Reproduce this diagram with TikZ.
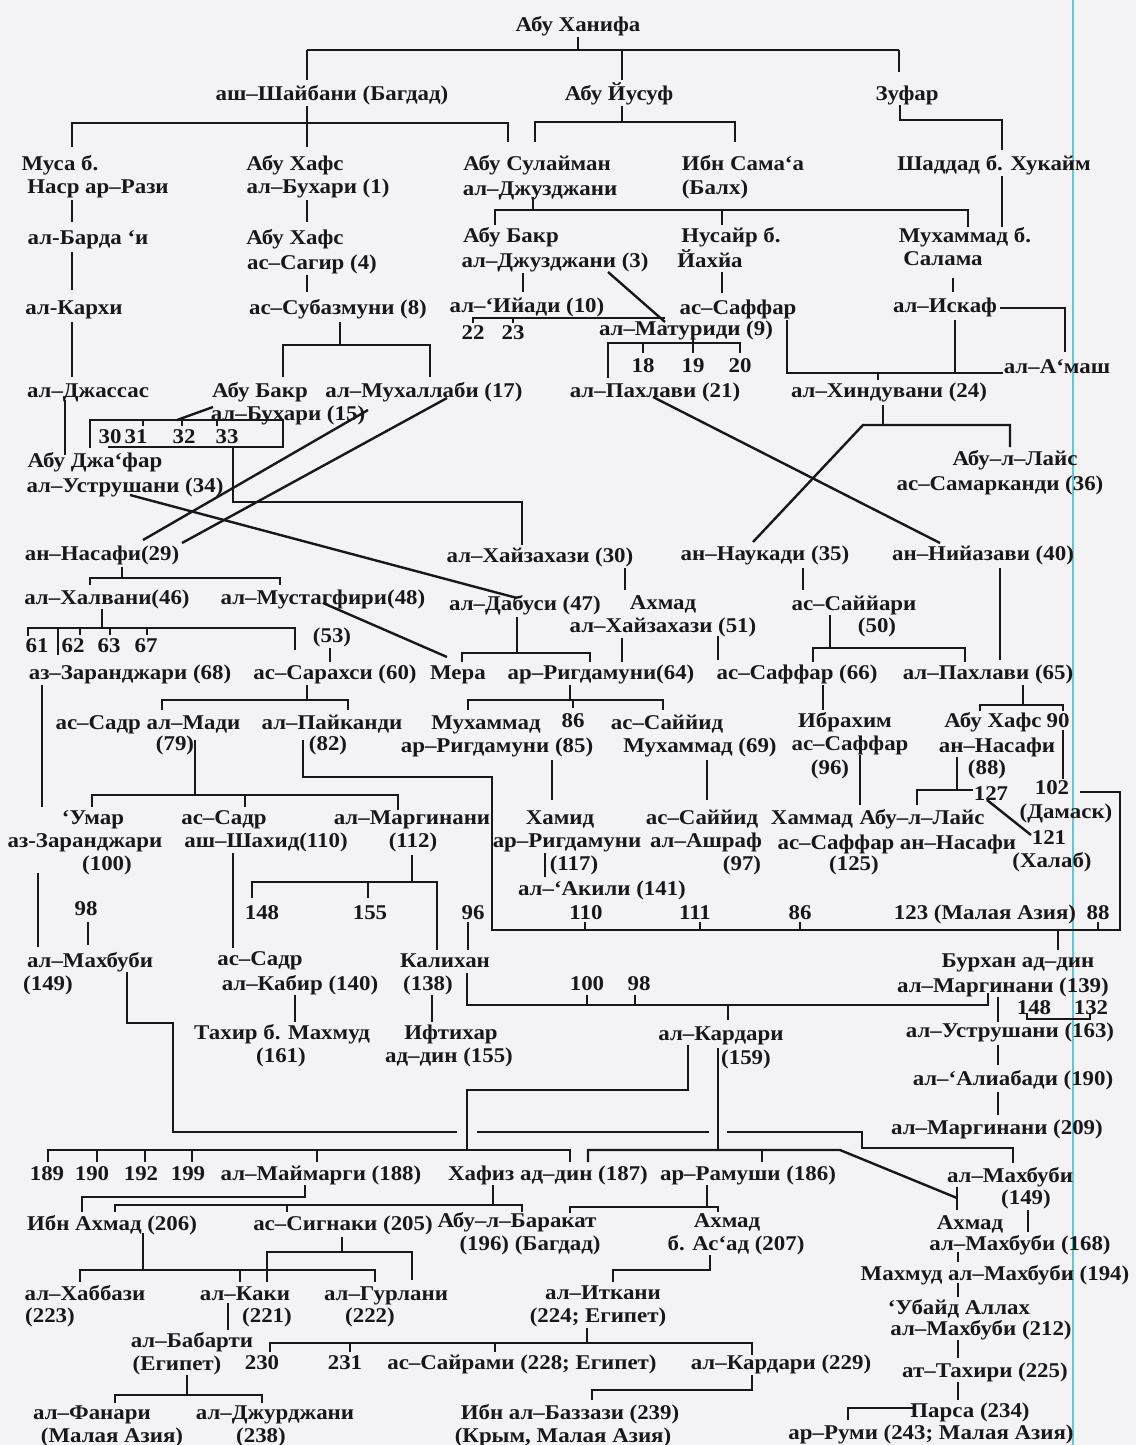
\documentclass[tikz,border=0pt]{standalone}
\usepackage{fontspec}
\setmainfont{Liberation Serif}[FakeStretch=1.09]
\definecolor{ink}{RGB}{24,24,26}
\definecolor{bg}{RGB}{243,243,246}
\definecolor{cy}{RGB}{95,200,210}
\newcommand\Tx[4]{\node[lb] (#1) at (#2,{#3+7}) {#4};}
\begin{document}
\begin{tikzpicture}[x=1pt,y=-1pt,
  lb/.style={anchor=base,inner sep=0pt,text=ink,font=\fontsize{21}{23}\selectfont\bfseries},
  ln/.style={draw=ink,line width=2.4pt}]
\fill[bg] (0,0) rectangle (1136,1445);
\useasboundingbox (0,0) rectangle (1136,1445);
\draw[cy,line width=1.6pt] (1073,0) -- (1073,1445);
% ---------- texts ----------
\Tx{hanifa}{578}{25}{Абу Ханифа}
\Tx{shaybani}{332}{93}{аш–Шайбани (Багдад)}
\Tx{yusuf}{619}{93}{Абу Йусуф}
\Tx{zufar}{907}{93}{Зуфар}
\Tx{musaA}{60}{163}{Муса б.}
\Tx{musaB}{98}{186}{Наср ар–Рази}
\Tx{hafsA}{295}{163}{Абу Хафс}
\Tx{hafsB}{318}{186}{ал–Бухари (1)}
\Tx{sulA}{537}{163}{Абу Сулайман}
\Tx{sulB}{540}{188}{ал–Джузджани}
\Tx{samaA}{743}{163}{Ибн Сама‘а}
\Tx{samaB}{715}{187}{(Балх)}
\Tx{shaddad}{994}{163}{Шаддад б. Хукайм}
\Tx{barda}{88}{237}{ал-Барда ‘и}
\Tx{saghirA}{295}{237}{Абу Хафс}
\Tx{saghirB}{312}{262}{ас–Сагир (4)}
\Tx{bakrA}{511}{235}{Абу Бакр}
\Tx{bakrB}{555}{260}{ал–Джузджани (3)}
\Tx{nusayrA}{731}{235}{Нусайр б.}
\Tx{nusayrB}{710}{260}{Йахйа}
\Tx{salamaA}{965}{235}{Мухаммад б.}
\Tx{salamaB}{943}{258}{Салама}
\Tx{karkhi}{74}{307}{ал-Кархи}
\Tx{subaz}{338}{307}{ас–Субазмуни (8)}
\Tx{iyadi}{527}{305}{ал–‘Ийади (10)}
\Tx{saffarA}{738}{307}{ас–Саффар}
\Tx{iskaf}{945}{305}{ал–Искаф}
\Tx{n22}{473}{332}{22}
\Tx{n23}{513}{332}{23}
\Tx{maturidi}{686}{328}{ал–Матуриди (9)}
\Tx{amash}{1057}{366}{ал–А‘маш}
\Tx{n18}{643}{365}{18}
\Tx{n19}{693}{365}{19}
\Tx{n20}{740}{365}{20}
\Tx{jassas}{88}{390}{ал–Джассас}
\Tx{bakrbA}{260}{390}{Абу Бакр}
\Tx{bakrbB}{288}{413}{ал–Бухари (15)}
\Tx{muhallabi}{424}{390}{ал–Мухаллаби (17)}
\Tx{pahlaviA}{655}{390}{ал–Пахлави (21)}
\Tx{hinduvani}{889}{390}{ал–Хиндувани (24)}
\Tx{n30}{110}{436}{30}
\Tx{n31}{136}{436}{31}
\Tx{n32}{184}{436}{32}
\Tx{n33}{227}{436}{33}
\Tx{jafarA}{95}{460}{Абу Джа‘фар}
\Tx{jafarB}{125}{485}{ал–Уструшани (34)}
\Tx{laythA}{1015}{458}{Абу–л–Лайс}
\Tx{laythB}{1000}{483}{ас–Самарканди (36)}
\Tx{nasafi}{102}{553}{ан–Насафи(29)}
\Tx{khayzA}{540}{555}{ал–Хайзахази (30)}
\Tx{naukadi}{765}{553}{ан–Наукади (35)}
\Tx{niyazavi}{983}{553}{ан–Нийазави (40)}
\Tx{khalvani}{107}{597}{ал–Халвани(46)}
\Tx{mustaghfiri}{323}{597}{ал–Мустагфири(48)}
\Tx{dabusi}{525}{603}{ал–Дабуси (47)}
\Tx{ahmadA}{663}{602}{Ахмад}
\Tx{ahmadB}{663}{625}{ал–Хайзахази (51)}
\Tx{sayyariA}{854}{603}{ас–Саййари}
\Tx{sayyariB}{877}{625}{(50)}
\Tx{n61}{37}{645}{61}
\Tx{n62}{73}{645}{62}
\Tx{n63}{109}{645}{63}
\Tx{n67}{146}{645}{67}
\Tx{n53}{332}{635}{(53)}
\Tx{zaranj}{130}{672}{аз–Заранджари (68)}
\Tx{sarakhsi}{335}{672}{ас–Сарахси (60)}
\Tx{mera}{458}{672}{Мера}
\Tx{rigd}{601}{672}{ар–Ригдамуни(64)}
\Tx{saffarB}{797}{672}{ас–Саффар (66)}
\Tx{pahlaviB}{988}{672}{ал–Пахлави (65)}
\Tx{madiA}{148}{722}{ас–Садр ал–Мади}
\Tx{madiB}{175}{743}{(79)}
\Tx{paykA}{332}{722}{ал–Пайканди}
\Tx{paykB}{328}{743}{(82)}
\Tx{muhrA}{486}{722}{Мухаммад}
\Tx{muhrB}{497}{745}{ар–Ригдамуни (85)}
\Tx{n86a}{573}{720}{86}
\Tx{sayyA}{667}{722}{ас–Саййид}
\Tx{sayyB}{700}{745}{Мухаммад (69)}
\Tx{ibrA}{845}{720}{Ибрахим}
\Tx{ibrB}{850}{743}{ас–Саффар}
\Tx{ibrC}{830}{767}{(96)}
\Tx{hafsnA}{993}{720}{Абу Хафс}
\Tx{n90}{1058}{720}{90}
\Tx{hafsnB}{997}{745}{ан–Насафи}
\Tx{hafsnC}{987}{767}{(88)}
\Tx{umarA}{93}{817}{‘Умар}
\Tx{umarB}{85}{840}{аз-Заранджари}
\Tx{umarC}{107}{863}{(100)}
\Tx{shahidA}{224}{817}{ас–Садр}
\Tx{shahidB}{266}{840}{аш–Шахид(110)}
\Tx{margA}{412}{817}{ал–Маргинани}
\Tx{margB}{413}{840}{(112)}
\Tx{hamidA}{560}{817}{Хамид}
\Tx{hamidB}{567}{840}{ар–Ригдамуни}
\Tx{hamidC}{574}{863}{(117)}
\Tx{ashrafA}{702}{817}{ас–Саййид}
\Tx{ashrafB}{706}{840}{ал–Ашраф}
\Tx{ashrafC}{742}{863}{(97)}
\Tx{hammadA}{812}{817}{Хаммад}
\Tx{hammadB}{836}{842}{ас–Саффар}
\Tx{hammadC}{854}{863}{(125)}
\Tx{laysnA}{922}{817}{Абу–л–Лайс}
\Tx{laysnB}{958}{842}{ан–Насафи}
\Tx{n127}{991}{793}{127}
\Tx{n102}{1052}{787}{102}
\Tx{damask}{1066}{811}{(Дамаск)}
\Tx{n121}{1049}{837}{121}
\Tx{khalab}{1052}{860}{(Халаб)}
\Tx{aqili}{602}{888}{ал–‘Акили (141)}
\Tx{n148a}{262}{912}{148}
\Tx{n155a}{370}{912}{155}
\Tx{n96}{473}{912}{96}
\Tx{n110}{586}{912}{110}
\Tx{n111}{695}{912}{111}
\Tx{n86b}{800}{912}{86}
\Tx{n123}{985}{912}{123 (Малая Азия)}
\Tx{n88}{1098}{912}{88}
\Tx{n98a}{86}{908}{98}
\Tx{mahbA}{90}{960}{ал–Махбуби}
\Tx{mahbB}{48}{983}{(149)}
\Tx{kabirA}{260}{958}{ас–Садр}
\Tx{kabirB}{300}{983}{ал–Кабир (140)}
\Tx{qalA}{445}{960}{Калихан}
\Tx{qalB}{428}{983}{(138)}
\Tx{burhanA}{1018}{960}{Бурхан ад–дин}
\Tx{burhanB}{1003}{985}{ал–Маргинани (139)}
\Tx{n100}{587}{983}{100}
\Tx{n98b}{639}{983}{98}
\Tx{n148b}{1034}{1007}{148}
\Tx{n132}{1091}{1007}{132}
\Tx{tahirA}{282}{1032}{Тахир б. Махмуд}
\Tx{tahirB}{281}{1055}{(161)}
\Tx{iftA}{451}{1032}{Ифтихар}
\Tx{iftB}{449}{1055}{ад–дин (155)}
\Tx{kardA}{721}{1033}{ал–Кардари}
\Tx{kardB}{746}{1057}{(159)}
\Tx{ustr}{1010}{1030}{ал–Уструшани (163)}
\Tx{aliabadi}{1013}{1078}{ал–‘Алиабади (190)}
\Tx{margC}{997}{1127}{ал–Маргинани (209)}
\Tx{n189}{47}{1173}{189}
\Tx{n190}{92}{1173}{190}
\Tx{n192}{141}{1173}{192}
\Tx{n199}{188}{1173}{199}
\Tx{maymarghi}{321}{1173}{ал–Маймарги (188)}
\Tx{hafiz}{548}{1173}{Хафиз ад–дин (187)}
\Tx{ramushi}{748}{1173}{ар–Рамуши (186)}
\Tx{mahbC}{1010}{1175}{ал–Махбуби}
\Tx{mahbD}{1026}{1197}{(149)}
\Tx{ibnahmad}{112}{1223}{Ибн Ахмад (206)}
\Tx{sighnaqi}{343}{1223}{ас–Сигнаки (205)}
\Tx{barakaA}{517}{1220}{Абу–л–Баракат}
\Tx{barakaB}{530}{1243}{(196) (Багдад)}
\Tx{asadA}{727}{1220}{Ахмад}
\Tx{asadB}{736}{1243}{б. Ас‘ад (207)}
\Tx{ahmA}{970}{1222}{Ахмад}
\Tx{ahmB}{1020}{1243}{ал–Махбуби (168)}
\Tx{mahmud}{995}{1273}{Махмуд ал–Махбуби (194)}
\Tx{ubaydA}{959}{1307}{‘Убайд Аллах}
\Tx{ubaydB}{981}{1328}{ал–Махбуби (212)}
\Tx{tahiri}{985}{1370}{ат–Тахири (225)}
\Tx{parsa}{970}{1410}{Парса (234)}
\Tx{rumi}{931}{1432}{ар–Руми (243; Малая Азия)}
\Tx{khabA}{85}{1293}{ал–Хаббази}
\Tx{khabB}{50}{1315}{(223)}
\Tx{qakiA}{245}{1293}{ал–Каки}
\Tx{qakiB}{267}{1315}{(221)}
\Tx{gurA}{386}{1293}{ал–Гурлани}
\Tx{gurB}{370}{1315}{(222)}
\Tx{itkA}{603}{1292}{ал–Иткани}
\Tx{itkB}{598}{1315}{(224; Египет)}
\Tx{babA}{192}{1340}{ал–Бабарти}
\Tx{babB}{177}{1363}{(Египет)}
\Tx{n230}{262}{1362}{230}
\Tx{n231}{345}{1362}{231}
\Tx{sayrami}{522}{1362}{ас–Сайрами (228; Египет)}
\Tx{kardC}{781}{1362}{ал–Кардари (229)}
\Tx{fanA}{92}{1412}{ал–Фанари}
\Tx{fanB}{112}{1435}{(Малая Азия)}
\Tx{jurA}{275}{1412}{ал–Джурджани}
\Tx{jurB}{261}{1435}{(238)}
\Tx{bazA}{570}{1412}{Ибн ал–Баззази (239)}
\Tx{bazB}{563}{1435}{(Крым, Малая Азия)}
% ---------- connectors ----------
\draw[ln] (578,37) -- (578,50);
\draw[ln] (307,50) -- (899,50);
\draw[ln] (307,50) -- (307,80);
\draw[ln] (307,106) -- (307,147);
\draw[ln] (622,50) -- (622,80);
\draw[ln] (622,106) -- (622,122);
\draw[ln] (899,50) -- (899,72);
\draw[ln] (72,147) -- (72,123) -- (508,123) -- (508,142);
\draw[ln] (535,142) -- (535,122) -- (735,122) -- (735,142);
\draw[ln] (900,105) -- (900,120) -- (1002,120) -- (1002,150);
\draw[ln] (1002,176) -- (1002,227);
\draw[ln] (72,200) -- (72,222);
\draw[ln] (72,252) -- (72,290);
\draw[ln] (72,322) -- (72,377);
\draw[ln] (65,400) -- (65,455);
\draw[ln] (307,200) -- (307,222);
\draw[ln] (307,275) -- (307,292);
\draw[ln] (340,322) -- (340,345);
\draw[ln] (283,377) -- (283,345) -- (430,345) -- (430,377);
\draw[ln] (533,197) -- (533,210);
\draw[ln] (495,225) -- (495,210) -- (968,210) -- (968,227);
\draw[ln] (722,210) -- (722,225);
\draw[ln] (523,273) -- (523,292);
\draw[ln] (608,272) -- (665,322);
\draw[ln] (472,318) -- (665,318);
\draw[ln] (473,318) -- (473,323);
\draw[ln] (513,318) -- (513,323);
\draw[ln] (722,272) -- (722,293);
\draw[ln] (953,278) -- (953,292);
\draw[ln] (1000,308) -- (1065,308) -- (1065,352);
\draw[ln] (787,320) -- (787,373) -- (1003,373);
\draw[ln] (955,320) -- (955,373);
\draw[ln] (878,373) -- (878,380);
\draw[ln] (608,378) -- (608,343) -- (740,343) -- (740,353);
\draw[ln] (643,343) -- (643,353);
\draw[ln] (693,338) -- (693,353);
\draw[ln] (213,407) -- (177,420);
\draw[ln] (90,448) -- (90,420) -- (283,420) -- (283,447) -- (108,447);
\draw[ln] (143,420) -- (143,426);
\draw[ln] (182,420) -- (182,426);
\draw[ln] (217,420) -- (217,426);
\draw[ln] (233,447) -- (233,502) -- (522,502) -- (522,545);
\draw[ln] (143,540) -- (368,410);
\draw[ln] (182,543) -- (447,398);
\draw[ln] (130,495) -- (517,598);
\draw[ln] (323,603) -- (447,657);
\draw[ln] (653,397) -- (940,543);
\draw[ln] (883,405) -- (883,425);
\draw[ln] (753,542) -- (863,425) -- (1010,425) -- (1010,447);
\draw[ln] (122,567) -- (122,578);
\draw[ln] (90,585) -- (90,578) -- (280,578) -- (280,585);
\draw[ln] (102,609) -- (102,628);
\draw[ln] (28,636) -- (28,628) -- (295,628) -- (295,650);
\draw[ln] (58,628) -- (58,655);
\draw[ln] (80,628) -- (80,635);
\draw[ln] (110,628) -- (110,635);
\draw[ln] (147,628) -- (147,635);
\draw[ln] (330,648) -- (330,662);
\draw[ln] (42,685) -- (42,807);
\draw[ln] (307,685) -- (307,700);
\draw[ln] (162,710) -- (162,700) -- (348,700) -- (348,710);
\draw[ln] (625,568) -- (625,590);
\draw[ln] (622,638) -- (622,662);
\draw[ln] (718,636) -- (718,660);
\draw[ln] (517,617) -- (517,653);
\draw[ln] (462,662) -- (462,653) -- (590,653) -- (590,662);
\draw[ln] (570,685) -- (570,700);
\draw[ln] (468,710) -- (468,700) -- (663,700) -- (663,710);
\draw[ln] (573,700) -- (573,708);
\draw[ln] (803,568) -- (803,590);
\draw[ln] (830,615) -- (830,648);
\draw[ln] (813,662) -- (813,648) -- (965,648) -- (965,662);
\draw[ln] (1000,568) -- (1000,660);
\draw[ln] (1023,685) -- (1023,705);
\draw[ln] (980,711) -- (980,705) -- (1063,705) -- (1063,711);
\draw[ln] (1063,730) -- (1063,779);
\draw[ln] (823,685) -- (823,710);
\draw[ln] (860,755) -- (860,805);
\draw[ln] (957,757) -- (957,790);
\draw[ln] (917,805) -- (917,790) -- (973,790);
\draw[ln] (987,800) -- (1031,835);
\draw[ln] (1080,792) -- (1120,792) -- (1120,930) -- (492,930) -- (492,777) -- (303,777) -- (303,740);
\draw[ln] (585,930) -- (585,922);
\draw[ln] (700,930) -- (700,922);
\draw[ln] (800,930) -- (800,922);
\draw[ln] (1098,930) -- (1098,922);
\draw[ln] (1058,930) -- (1058,950);
\draw[ln] (195,740) -- (195,795);
\draw[ln] (92,807) -- (92,795) -- (398,795) -- (398,810);
\draw[ln] (245,795) -- (245,807);
\draw[ln] (552,760) -- (552,800);
\draw[ln] (707,760) -- (707,800);
\draw[ln] (545,853) -- (545,877);
\draw[ln] (38,873) -- (38,947);
\draw[ln] (88,922) -- (88,945);
\draw[ln] (233,853) -- (233,948);
\draw[ln] (412,855) -- (412,882);
\draw[ln] (252,898) -- (252,882) -- (437,882) -- (437,950);
\draw[ln] (368,882) -- (368,898);
\draw[ln] (468,922) -- (468,950);
\draw[ln] (295,995) -- (295,1022);
\draw[ln] (432,995) -- (432,1022);
\draw[ln] (467,973) -- (467,1005) -- (988,1005) -- (988,993);
\draw[ln] (587,1005) -- (587,995);
\draw[ln] (635,1005) -- (635,995);
\draw[ln] (728,1005) -- (728,1020);
\draw[ln] (998,997) -- (998,1022);
\draw[ln] (1027,1013) -- (1027,1019) -- (1090,1019) -- (1090,1013);
\draw[ln] (998,1045) -- (998,1065);
\draw[ln] (998,1092) -- (998,1115);
\draw[ln] (127,972) -- (127,1023) -- (173,1023) -- (173,1132) -- (457,1132);
\draw[ln] (477,1132) -- (709,1132);
\draw[ln] (727,1132) -- (862,1132) -- (862,1148) -- (1013,1148) -- (1013,1163);
\draw[ln] (688,1045) -- (688,1090) -- (467,1090) -- (467,1150);
\draw[ln] (48,1162) -- (48,1150) -- (570,1150) -- (570,1162);
\draw[ln] (97,1150) -- (97,1162);
\draw[ln] (145,1150) -- (145,1162);
\draw[ln] (192,1150) -- (192,1162);
\draw[ln] (317,1150) -- (317,1162);
\draw[ln] (718,1048) -- (718,1150);
\draw[ln] (588,1162) -- (588,1150) -- (840,1150) -- (957,1198);
\draw[ln] (762,1150) -- (762,1162);
\draw[ln] (957,1187) -- (957,1210);
\draw[ln] (1028,1210) -- (1028,1232);
\draw[ln] (958,1252) -- (958,1262);
\draw[ln] (958,1283) -- (958,1297);
\draw[ln] (958,1340) -- (958,1358);
\draw[ln] (958,1382) -- (958,1400);
\draw[ln] (913,1408) -- (848,1408) -- (848,1420);
\draw[ln] (305,1185) -- (305,1197) -- (82,1197) -- (82,1212);
\draw[ln] (493,1185) -- (493,1205);
\draw[ln] (115,1212) -- (115,1205) -- (522,1205) -- (522,1212);
\draw[ln] (287,1205) -- (287,1212);
\draw[ln] (707,1185) -- (707,1207);
\draw[ln] (570,1213) -- (570,1207) -- (718,1207) -- (718,1212);
\draw[ln] (710,1255) -- (710,1270) -- (613,1270) -- (613,1282);
\draw[ln] (143,1233) -- (143,1270);
\draw[ln] (80,1282) -- (80,1270) -- (375,1270) -- (375,1282);
\draw[ln] (240,1270) -- (240,1282);
\draw[ln] (342,1237) -- (342,1252);
\draw[ln] (267,1282) -- (267,1252) -- (412,1252) -- (412,1280);
\draw[ln] (228,1303) -- (228,1330);
\draw[ln] (187,1375) -- (187,1395);
\draw[ln] (115,1403) -- (115,1395) -- (262,1395) -- (262,1403);
\draw[ln] (587,1328) -- (587,1343);
\draw[ln] (270,1352) -- (270,1343) -- (752,1343) -- (752,1355);
\draw[ln] (350,1343) -- (350,1352);
\draw[ln] (495,1343) -- (495,1352);
\draw[ln] (752,1375) -- (752,1390) -- (592,1390) -- (592,1400);
\end{tikzpicture}
\end{document}
